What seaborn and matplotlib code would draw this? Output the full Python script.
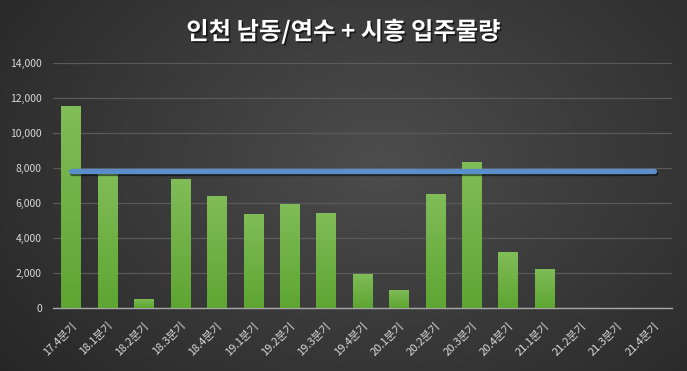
import numpy as np
import pandas as pd
import matplotlib
matplotlib.use("Agg")
import matplotlib.pyplot as plt
import matplotlib.patheffects as pe
from matplotlib.ticker import FuncFormatter
from matplotlib.colors import LinearSegmentedColormap
import seaborn as sns

categories = ["17.4분기", "18.1분기", "18.2분기", "18.3분기", "18.4분기", "19.1분기",
              "19.2분기", "19.3분기", "19.4분기", "20.1분기", "20.2분기", "20.3분기",
              "20.4분기", "21.1분기", "21.2분기", "21.3분기", "21.4분기"]
supply = [11550, 7650, 530, 7370, 6400, 5370, 5950, 5450, 1950, 1050, 6500, 8350,
          3200, 2230, 0, 0, 0]
average = [7830] * 17
title = "인천 남동/연수 + 시흥 입주물량"

sns.set_theme(style="dark")
plt.rcParams['font.family'] = ['Noto Sans CJK KR', 'DejaVu Sans']

fig = plt.figure(figsize=(6.87, 3.71), dpi=100)

# background radial gradient
bg = fig.add_axes([0, 0, 1, 1], zorder=-10)
yy, xx = np.mgrid[0:371, 0:687]
d = np.sqrt(((xx - 380) / 420.0) ** 2 + ((yy - 160) / 300.0) ** 2)
val = np.clip(0.30 - 0.13 * d, 0.15, 0.30)
bg.imshow(np.dstack([val, val, val]), aspect='auto', extent=[0, 1, 0, 1])
bg.set_axis_off()

ax = fig.add_axes([0.077, 0.170, 0.901, 0.660])
ax.set_facecolor('none')

df = pd.DataFrame({"cat": categories, "supply": supply})
sns.barplot(data=df, x="cat", y="supply", color="#6cb23e", width=0.53,
            saturation=1, ax=ax, zorder=3)

# vertical gradient fill for each bar
cmap = LinearSegmentedColormap.from_list("g", ["#5ea532", "#80bd58"])
grad = np.linspace(0, 1, 256).reshape(-1, 1)
for p in ax.patches:
    p.set_edgecolor('none')
    h = p.get_height()
    if h <= 0:
        continue
    x0 = p.get_x()
    w = p.get_width()
    im = ax.imshow(grad, cmap=cmap, aspect='auto', origin='lower',
                   extent=[x0, x0 + w, 0, h], zorder=3.1)
    im.set_clip_path(p)

ax.plot(range(len(categories)), average, color="#5b8fcb", lw=3.8, zorder=4,
        solid_capstyle='round',
        path_effects=[pe.SimpleLineShadow(offset=(1, -1.5), shadow_color='black', alpha=0.5),
                      pe.Normal()])

ax.set_ylim(0, 14000)
ax.set_xlim(-0.5, len(categories) - 0.5)
ax.set_yticks(np.arange(0, 14001, 2000))
ax.yaxis.set_major_formatter(FuncFormatter(lambda v, p: f"{int(v):,}"))
ax.grid(axis='y', color='#5a5a5a', lw=0.9, zorder=0)
ax.grid(axis='x', visible=False)
for s in ['top', 'right', 'left']:
    ax.spines[s].set_visible(False)
ax.spines['bottom'].set_color('#a8a8a8')
ax.spines['bottom'].set_linewidth(1.0)
ax.set_xlabel("")
ax.set_ylabel("")
ax.tick_params(axis='both', length=0, colors='#d9d9d9', labelsize=7.5)
ax.tick_params(axis='y', pad=8)
ax.tick_params(axis='x', pad=9, labelsize=8)
plt.setp(ax.get_xticklabels(), rotation=45, ha='right', rotation_mode='anchor')

fig.text(0.5, 0.915, title, ha='center', va='center', color='white',
         fontsize=17.5, fontweight='bold',
         path_effects=[pe.withSimplePatchShadow(offset=(1.2, -1.2), shadow_rgbFace='black', alpha=0.6)])

fig.savefig("out.png", dpi=100)
